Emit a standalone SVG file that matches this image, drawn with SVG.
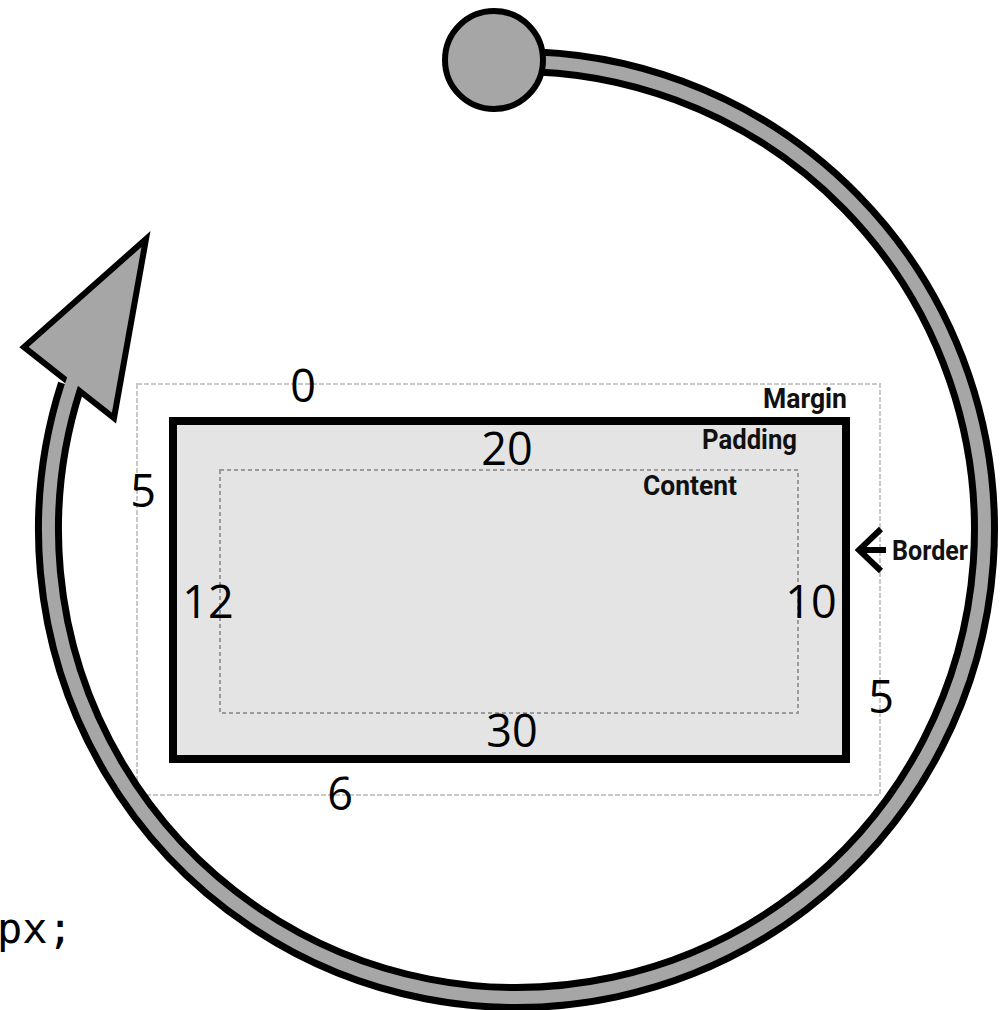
<svg xmlns="http://www.w3.org/2000/svg" width="1001" height="1010" viewBox="0 0 1001 1010">
<style>
.num{font-family:"Open Sans","Noto Sans",sans-serif;font-size:45px;fill:#000;text-anchor:middle}
.lbl{font-family:Roboto,"Liberation Sans",sans-serif;font-weight:bold;font-size:27px;fill:#111}
.code{font-family:"DejaVu Sans Mono","Liberation Mono",monospace;font-size:42px;fill:#000}
.ring-out{fill:none;stroke:#000;stroke-width:27}
.ring-in{fill:none;stroke:#a6a6a6;stroke-width:13}
.shape{fill:#a6a6a6;stroke:#000;stroke-width:6;stroke-linejoin:miter}
</style>
<rect width="1001" height="1010" fill="#fff"/>
<g id="margin">
<rect x="137" y="384" width="743" height="411" fill="none" stroke="#c8c8c8" stroke-width="2" stroke-dasharray="5 2"/>
</g>
<g id="border">
<rect x="173" y="421" width="673" height="338" fill="#e4e4e4" stroke="#000" stroke-width="8"/>
</g>
<g id="content">
<rect x="220" y="470" width="578" height="243" fill="none" stroke="#9a9a9a" stroke-width="2" stroke-dasharray="4 3"/>
</g>
<g id="values">
<text class="num" x="303" y="402">0</text>
<text class="num" x="507" y="465">20</text>
<text class="num" x="143" y="507">5</text>
<text class="num" x="208" y="618">12</text>
<text class="num" x="811" y="618">10</text>
<text class="num" x="881" y="713">5</text>
<text class="num" x="512" y="747">30</text>
<text class="num" x="340" y="810">6</text>
</g>
<g id="labels">
<text class="lbl" x="763" y="408" font-size="25" textLength="84" lengthAdjust="spacingAndGlyphs">Margin</text>
<text class="lbl" x="702" y="449" textLength="95" lengthAdjust="spacingAndGlyphs">Padding</text>
<text class="lbl" x="643" y="495" textLength="94" lengthAdjust="spacingAndGlyphs">Content</text>
<text class="lbl" x="892" y="560" textLength="76" lengthAdjust="spacingAndGlyphs">Border</text>
<path d="M881 529 L859 550 L881 571 M859 550 L886 550" fill="none" stroke="#000" stroke-width="6"/>
</g>
<g id="code">
<text class="code" x="-3" y="943">px;</text>
</g>
<g id="connectors">
<path class="ring-out" d="M494 62 A468 468 0 1 1 71 386"/>
<polygon class="shape" points="146,239 24,347 114,418"/>
<path class="ring-in" d="M494 62 A468 468 0 1 1 71 386 L76 372"/>
<circle class="shape" cx="494" cy="60" r="49"/>
</g>
</svg>
